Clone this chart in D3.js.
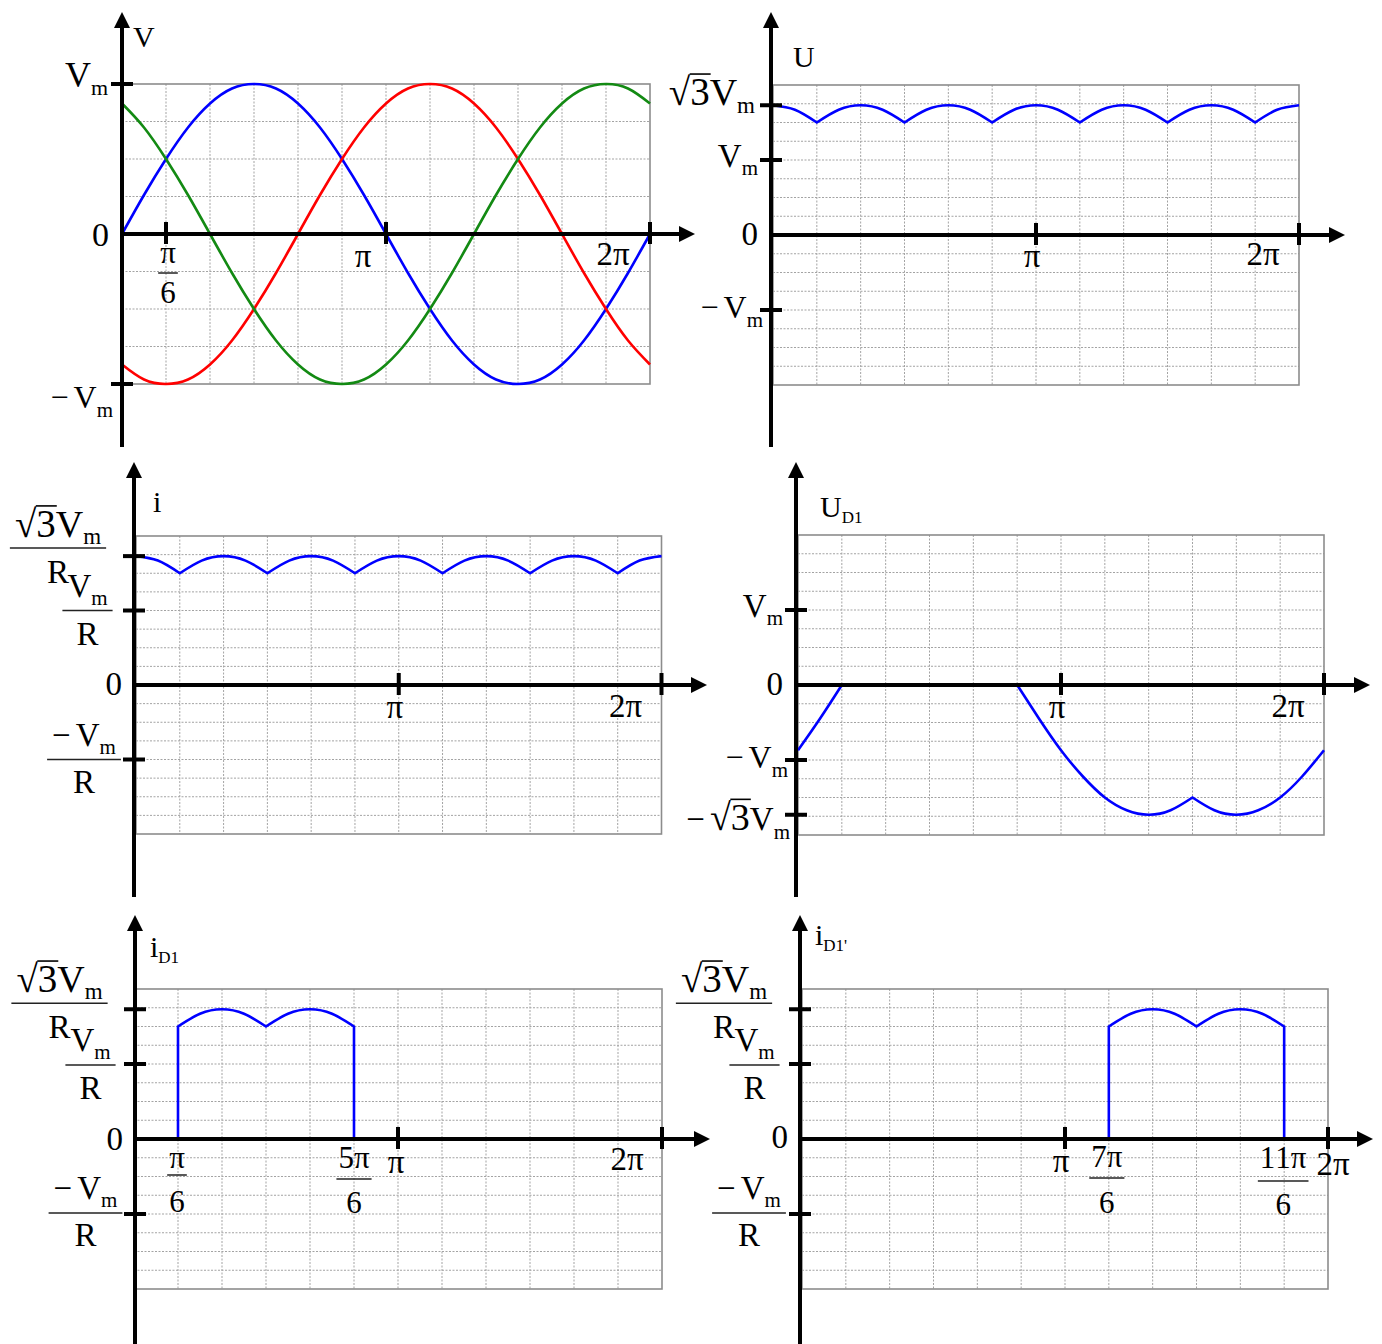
<!DOCTYPE html>
<html>
<head>
<meta charset="utf-8">
<script src="https://cdn.jsdelivr.net/npm/d3@7"></script>
<style>
  html, body { margin: 0; padding: 0; background: #fff; }
  svg { display: block; }
  text { font-family: "Liberation Serif", "Times New Roman", serif; fill: #000; }
</style>
</head>
<body>
<svg id="chart" width="1382" height="1344"></svg>
<script>
// ---------------------------------------------------------------
// Waveforms of a three-phase full-wave (six-pulse) diode bridge.
// Angles are sampled every π/12 over one period (values = multiples of π/12).
// ---------------------------------------------------------------
const angleSteps = [0,1,2,3,4,5,6,7,8,9,10,11,12,13,14,15,16,17,18,19,20,21,22,23,24];

// phase voltages, in units of Vm
const phaseA = [0,0.26,0.5,0.71,0.87,0.97,1,0.97,0.87,0.71,0.5,0.26,0,-0.26,-0.5,-0.71,-0.87,-0.97,-1,-0.97,-0.87,-0.71,-0.5,-0.26,0];
const phaseB = [-0.87,-0.97,-1,-0.97,-0.87,-0.71,-0.5,-0.26,0,0.26,0.5,0.71,0.87,0.97,1,0.97,0.87,0.71,0.5,0.26,0,-0.26,-0.5,-0.71,-0.87];
const phaseC = [0.87,0.71,0.5,0.26,0,-0.26,-0.5,-0.71,-0.87,-0.97,-1,-0.97,-0.87,-0.71,-0.5,-0.26,0,0.26,0.5,0.71,0.87,0.97,1,0.97,0.87];

// rectified output voltage U, in units of Vm (sharp cusps at the listed sample indices)
const outputU = [1.73,1.67,1.5,1.67,1.73,1.67,1.5,1.67,1.73,1.67,1.5,1.67,1.73,1.67,1.5,1.67,1.73,1.67,1.5,1.67,1.73,1.67,1.5,1.67,1.73];
const outputUCorners = [2,6,10,14,18,22];

// load current i, in units of Vm/R
const loadI = [1.73,1.67,1.5,1.67,1.73,1.67,1.5,1.67,1.73,1.67,1.5,1.67,1.73,1.67,1.5,1.67,1.73,1.67,1.5,1.67,1.73,1.67,1.5,1.67,1.73];
const loadICorners = [2,6,10,14,18,22];

// voltage across diode D1, in units of Vm
const diodeUD1 = [-0.87,-0.45,0,0,0,0,0,0,0,0,0,-0.45,-0.87,-1.22,-1.5,-1.67,-1.73,-1.67,-1.5,-1.67,-1.73,-1.67,-1.5,-1.22,-0.87];
const diodeUD1Corners = [2,10,18];

// current through D1, in units of Vm/R
const iD1Angles = [0,2,2,3,4,5,6,7,8,9,10,10,24];
const iD1 = [0,0,1.5,1.67,1.73,1.67,1.5,1.67,1.73,1.67,1.5,0,0];
const iD1Corners = [1,2,6,10,11];

// current through D1', in units of Vm/R
const iD1pAngles = [0,14,14,15,16,17,18,19,20,21,22,22,24];
const iD1p = [0,0,1.5,1.67,1.73,1.67,1.5,1.67,1.73,1.67,1.5,0,0];
const iD1pCorners = [1,2,6,10,11];

// axis titles
const titles = ["V", "U", "i", "U_D1", "i_D1", "i_D1'"];

// vertical tick marks (in units of Vm or Vm/R) and labels
const yTickValues = [[1,-1],[1.73,1,-1],[1.73,1,-1],[1,-1,-1.73],[1.73,1,-1],[1.73,1,-1]];
const yLabelValues = [[1,0,-1],[1.73,1,0,-1],[1.73,1,0,-1],[1,0,-1,-1.73],[1.73,1,0,-1],[1.73,1,0,-1]];
const yLabels = [
  ["Vm","0","−Vm"],
  ["√3Vm","Vm","0","−Vm"],
  ["√3Vm/R","Vm/R","0","−Vm/R"],
  ["Vm","0","−Vm","−√3Vm"],
  ["√3Vm/R","Vm/R","0","−Vm/R"],
  ["√3Vm/R","Vm/R","0","−Vm/R"]
];

// horizontal tick marks (in units of π) and labels
const xTickValues = [[1/6,1,2],[1,2],[1,2],[1,2],[1,2],[1,2]];
const xLabelValues = [[1/6,1,2],[1,2],[1,2],[1,2],[1/6,5/6,1,2],[1,7/6,11/6,2]];
const xLabels = [
  ["π/6","π","2π"],
  ["π","2π"],
  ["π","2π"],
  ["π","2π"],
  ["π/6","5π/6","π","2π"],
  ["π","7π/6","11π/6","2π"]
];

const seriesColors = { a: "#0000ff", b: "#ff0000", c: "#138a13" };

// ---------------------------------------------------------------
// panel geometry and label placement
// ---------------------------------------------------------------
const PI = Math.PI;
const S = (angles, values, corners, color) => ({ angles, values, corners, color });

const layouts = [
  { // phase voltages
    axisX: 122, xRange: [122, 650], yDomain: [-1, 1], yRange: [384, 84],
    axisTop: 12, axisBottom: 447, arrowX: 695,
    series: [S(angleSteps, phaseA, [], seriesColors.a), S(angleSteps, phaseB, [], seriesColors.b), S(angleSteps, phaseC, [], seriesColors.c)],
    title: { x: 133, y: 47, size: 30 },
    yPos: [ { dx: -14, dy: 3, size: 36, sub: 22, subDy: 8 },
            { dx: -13, dy: 12, size: 34 },
            { dx: -9, dy: 24, size: 32, sub: 21, subDy: 9 } ],
    xPos: [ { dx: 2, num: 29, bar: 39, den: 69, size: 31 },
            { dx: -23, dy: 33, size: 33 },
            { dx: -37, dy: 31, size: 33 } ]
  },
  { // output voltage
    axisX: 771, xRange: [773, 1299], yDomain: [-2, 2], yRange: [385, 85],
    axisTop: 12, axisBottom: 447, arrowX: 1345,
    series: [S(angleSteps, outputU, outputUCorners, seriesColors.a)],
    title: { x: 793, y: 67, size: 30 },
    yPos: [ { dx: -16, dy: 0, size: 38, root: 39, sub: 23, subDy: 8 },
            { dx: -13, dy: 7, size: 33, sub: 21, subDy: 8 },
            { dx: -13, dy: 10, size: 33 },
            { dx: -8, dy: 8, size: 32, sub: 21, subDy: 9 } ],
    xPos: [ { dx: -4, dy: 32, size: 33 }, { dx: -36, dy: 30, size: 33 } ]
  },
  { // load current
    axisX: 134, xRange: [136, 661.5], yDomain: [-2, 2], yRange: [834, 536],
    axisTop: 462, axisBottom: 897, arrowX: 707,
    series: [S(angleSteps, loadI, loadICorners, seriesColors.a)],
    title: { x: 153, y: 512, size: 30 },
    yPos: [ { cx: -76, bar: -8, num: -11, den: 35, size: 38, root: 39, sub: 23, subDy: 7 },
            { cx: -46.5, bar: 0, num: -14, den: 34, size: 33, sub: 21, subDy: 8 },
            { dx: -12, dy: 10, size: 33 },
            { cx: -50, bar: 0, num: -14, den: 33, size: 33, sub: 21, subDy: 8 } ],
    xPos: [ { dx: -4, dy: 33, size: 33 }, { dx: -36, dy: 32, size: 33 } ]
  },
  { // voltage across D1
    axisX: 796, xRange: [798, 1324], yDomain: [-2, 2], yRange: [835, 535],
    axisTop: 462, axisBottom: 897, arrowX: 1370,
    series: [S(angleSteps, diodeUD1, diodeUD1Corners, seriesColors.a)],
    title: { x: 820, y: 517, size: 30, sub: 17, subDy: 6 },
    yPos: [ { dx: -13, dy: 7, size: 33, sub: 21, subDy: 8 },
            { dx: -13, dy: 10, size: 33 },
            { dx: -8, dy: 8, size: 32, sub: 21, subDy: 9 },
            { dx: -6, dy: 15, size: 33, root: 38, sub: 21, subDy: 9 } ],
    xPos: [ { dx: -4, dy: 33, size: 33 }, { dx: -36, dy: 32, size: 33 } ]
  },
  { // current through D1
    axisX: 135, xRange: [134, 662], yDomain: [-2, 2], yRange: [1289, 989],
    axisTop: 915, axisBottom: 1344, arrowX: 710,
    series: [S(iD1Angles, iD1, iD1Corners, seriesColors.a)],
    title: { x: 150, y: 957, size: 30, sub: 17, subDy: 6 },
    yPos: [ { cx: -75.5, bar: -6, num: -11, den: 35, size: 38, root: 39, sub: 23, subDy: 7 },
            { cx: -44.5, bar: 1, num: -14, den: 34, size: 33, sub: 21, subDy: 8 },
            { dx: -12, dy: 11, size: 33 },
            { cx: -49.5, bar: -1, num: -14, den: 33, size: 33, sub: 21, subDy: 8 } ],
    xPos: [ { dx: -1, num: 29, bar: 36, den: 73, size: 31 },
            { dx: 0, num: 29, bar: 40, den: 74, size: 31 },
            { dx: -2, dy: 34, size: 33 },
            { dx: -35, dy: 31, size: 33 } ]
  },
  { // current through D1'
    axisX: 800, xRange: [802, 1328], yDomain: [-2, 2], yRange: [1289, 989],
    axisTop: 915, axisBottom: 1344, arrowX: 1373,
    series: [S(iD1pAngles, iD1p, iD1pCorners, seriesColors.a)],
    title: { x: 815, y: 945, size: 30, sub: 17, subDy: 6 },
    yPos: [ { cx: -76, bar: -6, num: -11, den: 35, size: 38, root: 39, sub: 23, subDy: 7 },
            { cx: -45.5, bar: 1, num: -14, den: 34, size: 33, sub: 21, subDy: 8 },
            { dx: -12, dy: 9, size: 33 },
            { cx: -51, bar: -1, num: -14, den: 33, size: 33, sub: 21, subDy: 8 } ],
    xPos: [ { dx: -4, dy: 33, size: 33 },
            { dx: -2, num: 28, bar: 39, den: 74, size: 31 },
            { dx: -1, num: 29, bar: 42, den: 76, size: 31 },
            { dx: 5, dy: 36, size: 33 } ]
  }
];

// ---------------------------------------------------------------
// math-style text: "−", "√3" with vinculum, "Vm" with subscript m, "_" subscript
// ---------------------------------------------------------------
function buildParts(str, st) {
  const chars = Array.from(str);
  const parts = [];
  for (let i = 0; i < chars.length; i++) {
    const ch = chars[i];
    if (ch === "−") parts.push({ t: ch, size: st.size, gap: 5 });
    else if (ch === "√") {
      parts.push({ t: "√", size: st.root || st.size });
      parts.push({ t: chars[i + 1], size: st.root || st.size, over: true });
      i++;
    } else if (ch === "V" && chars[i + 1] === "m") {
      parts.push({ t: "V", size: st.size });
      parts.push({ t: "m", size: st.sub || 21, dy: st.subDy || 8 });
      i++;
    } else if (ch === "_") {
      parts.push({ t: chars.slice(i + 1).join(""), size: st.sub || 17, dy: st.subDy || 6 });
      break;
    } else parts.push({ t: ch, size: st.size });
  }
  return parts;
}

function mathRow(parent, parts, x, y, anchor) {
  const grp = parent.append("g");
  let cx = 0;
  parts.forEach(p => {
    const t = grp.append("text")
      .attr("x", cx).attr("y", p.dy || 0)
      .attr("font-size", p.size).text(p.t);
    const w = t.node().getComputedTextLength();
    if (p.over) {
      const oy = -p.size * 0.80;
      grp.append("line")
        .attr("x1", cx - 0.5).attr("x2", cx + w + 1)
        .attr("y1", oy).attr("y2", oy)
        .attr("stroke", "#000").attr("stroke-width", 1.6);
    }
    cx += w + (p.gap || 0);
  });
  const off = anchor === "end" ? -cx : anchor === "middle" ? -cx / 2 : 0;
  grp.attr("transform", `translate(${x + off},${y})`);
  return cx;
}

function fraction(parent, numStr, denStr, st, cx, barY, pad) {
  const w1 = mathRow(parent, buildParts(numStr, st), cx, barY + st.num, "middle");
  const w2 = mathRow(parent, buildParts(denStr, { size: st.denSize || st.size }), cx, barY + st.den, "middle");
  const w = Math.max(w1, w2) + 2 * pad;
  parent.append("line")
    .attr("x1", cx - w / 2).attr("x2", cx + w / 2)
    .attr("y1", barY).attr("y2", barY)
    .attr("stroke", "#222").attr("stroke-width", 1.5);
}

// one path made of smooth pieces joined at sharp corners
function piecewisePath(pts, corners, line) {
  const idx = [0, ...corners, pts.length - 1];
  let d = "";
  for (let i = 0; i < idx.length - 1; i++) {
    const seg = line(pts.slice(idx[i], idx[i + 1] + 1));
    d += i === 0 ? seg : seg.replace(/^M[^A-Za-z]*/, "");
  }
  return d;
}

// ---------------------------------------------------------------
// drawing
// ---------------------------------------------------------------
const svg = d3.select("#chart");

layouts.forEach((L, pi) => {
  const g = svg.append("g");
  const x = d3.scaleLinear().domain([0, 2 * PI]).range(L.xRange);
  const y = d3.scaleLinear().domain(L.yDomain).range(L.yRange);
  const y0 = y(0);
  const [yLo, yHi] = L.yDomain;

  // dotted grid: every π/6 horizontally, every quarter unit vertically
  const gridAngles = d3.range(1, 12).map(k => k * PI / 6);
  const gridLevels = d3.range(yLo + 0.25, yHi - 0.001, 0.25);
  const grid = g.append("g").attr("stroke", "#a3a3a3").attr("stroke-width", 1).attr("stroke-dasharray", "2,1.5");
  grid.selectAll("line.gv").data(gridAngles).join("line")
    .attr("x1", d => x(d)).attr("x2", d => x(d))
    .attr("y1", y(yHi)).attr("y2", y(yLo));
  grid.selectAll("line.gh").data(gridLevels).join("line")
    .attr("x1", x(0)).attr("x2", x(2 * PI))
    .attr("y1", d => y(d)).attr("y2", d => y(d));
  g.append("rect")
    .attr("x", x(0)).attr("y", y(yHi))
    .attr("width", x(2 * PI) - x(0)).attr("height", y(yLo) - y(yHi))
    .attr("fill", "none").attr("stroke", "#8c8c8c").attr("stroke-width", 1.6);

  // waveforms
  const line = d3.line().x(d => x(d[0])).y(d => y(d[1])).curve(d3.curveNatural);
  L.series.forEach(s => {
    const pts = s.angles.map((a, i) => [a * PI / 12, s.values[i]]);
    g.append("path")
      .attr("d", piecewisePath(pts, s.corners, line))
      .attr("fill", "none").attr("stroke", s.color)
      .attr("stroke-width", 2.6).attr("stroke-linejoin", "miter").attr("stroke-miterlimit", 10);
  });

  // axes with arrowheads
  const ax = L.axisX;
  g.append("line").attr("x1", ax).attr("x2", ax).attr("y1", L.axisBottom).attr("y2", L.axisTop + 12)
    .attr("stroke", "#000").attr("stroke-width", 4);
  g.append("path").attr("d", `M${ax},${L.axisTop}L${ax - 8},${L.axisTop + 16}L${ax + 8},${L.axisTop + 16}Z`).attr("fill", "#000");
  g.append("line").attr("x1", ax).attr("x2", L.arrowX - 12).attr("y1", y0).attr("y2", y0)
    .attr("stroke", "#000").attr("stroke-width", 4);
  g.append("path").attr("d", `M${L.arrowX},${y0}L${L.arrowX - 16},${y0 - 8}L${L.arrowX - 16},${y0 + 8}Z`).attr("fill", "#000");

  // tick marks
  g.selectAll("line.ty").data(yTickValues[pi]).join("line")
    .attr("x1", ax - 11).attr("x2", ax + 11)
    .attr("y1", d => y(d)).attr("y2", d => y(d))
    .attr("stroke", "#000").attr("stroke-width", 4);
  g.selectAll("line.tx").data(xTickValues[pi]).join("line")
    .attr("x1", d => x(d * PI)).attr("x2", d => x(d * PI))
    .attr("y1", y0 - 12).attr("y2", y0 + 10)
    .attr("stroke", "#000").attr("stroke-width", 4);

  // axis title
  mathRow(g, buildParts(titles[pi], L.title), L.title.x, L.title.y, "start");

  // vertical labels
  yLabels[pi].forEach((lab, i) => {
    const st = L.yPos[i];
    const v = yLabelValues[pi][i];
    if (lab.includes("/")) {
      const [num, den] = lab.split("/");
      fraction(g, num, den, Object.assign({ denSize: 33 }, st), ax + st.cx, y(v) + st.bar, 5);
    } else {
      mathRow(g, buildParts(lab, st), ax + st.dx, y(v) + st.dy, "end");
    }
  });

  // horizontal labels
  xLabels[pi].forEach((lab, i) => {
    const st = L.xPos[i];
    const px = x(xLabelValues[pi][i] * PI) + st.dx;
    if (lab.includes("/")) {
      const [num, den] = lab.split("/");
      fraction(g, num, den, { size: st.size, num: st.num - st.bar, den: st.den - st.bar }, px, y0 + st.bar, 2);
    } else {
      mathRow(g, buildParts(lab, st), px, y0 + st.dy, "middle");
    }
  });
});
</script>
</body>
</html>
